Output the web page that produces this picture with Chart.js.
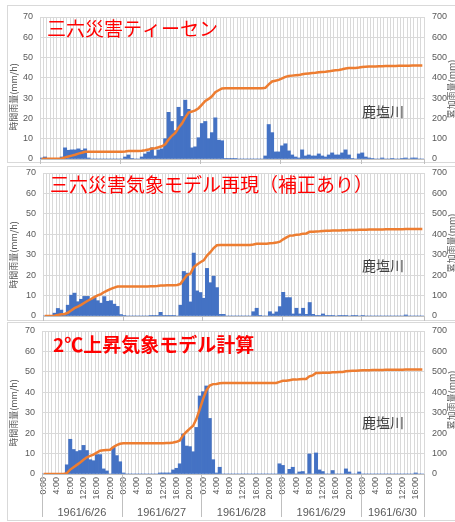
<!DOCTYPE html>
<html><head><meta charset="utf-8">
<script src="https://cdn.jsdelivr.net/npm/chart.js@4.4.1/dist/chart.umd.min.js"></script>
<style>
html,body{margin:0;padding:0;background:#fff;width:455px;height:522px;overflow:hidden;position:relative}
.panel{position:absolute;left:7px;width:470px;border:1px solid #d9d9d9;box-sizing:border-box;background:#fff}
canvas{position:absolute;left:0}
</style></head><body>
<div class="panel" style="top:5px;height:158px"></div>
<div class="panel" style="top:166px;height:155px"></div>
<div class="panel" style="top:322px;height:199px"></div>
<canvas id="c1" width="455" height="159" style="top:5px"></canvas>
<canvas id="c2" width="455" height="155" style="top:166px"></canvas>
<canvas id="c3" width="455" height="199" style="top:322px"></canvas>
<script>
// Dates on the category axis and how many hourly steps each one holds
const dayLabels = ['1961/6/26', '1961/6/27', '1961/6/28', '1961/6/29', '1961/6/30'];
const hoursPerDay = [24, 24, 24, 24, 19];
// Hour labels shown under the axis (every 4 hours)
const hourTickLabels = ['0:00', '4:00', '8:00', '12:00', '16:00', '20:00'];

// Hourly rainfall (mm/h), Kashio river basin — one row per day
const rainThiessen = [
  0.5, 1, 0, 0, 0, 0, 1, 5.5, 4.3, 4.5, 4.5, 5, 4.3, 5, 0.5, 0, 0, 0, 0, 0, 0, 0, 0, 0,
  0, 1, 2, 0.3, 0, 0, 1, 2.5, 3.5, 5.5, 1.5, 4.5, 5, 10, 23, 18.5, 14, 25.5, 21, 29, 24.5, 5.5, 6, 10.5,
  17.5, 18.5, 10, 13, 20.3, 9.3, 9, 0.3, 0.3, 0.3, 0.3, 0, 0, 0, 0, 0, 0, 0, 0, 1.5, 17, 13, 3.5, 3.5,
  6.5, 7.5, 4, 2, 1, 0.5, 4.5, 1.5, 2, 1.5, 1.5, 2.5, 1.5, 1, 2, 3, 2, 2, 3, 4.5, 2, 0.3, 0, 2.5,
  3, 1, 0.5, 0.3, 0, 0, 0.5, 0, 0, 0.3, 0, 0, 0.3, 0.5, 0, 0.5, 0.5, 0, 0
];
const rainModel = [
  0, 0.2, 0, 1.4, 3.7, 2.9, 1.3, 5.3, 10.2, 11.2, 7, 8.2, 9.6, 9.6, 8, 9, 7.5, 6.3, 9.5, 7.2, 7.5, 5.8, 4.7, 0.7,
  0.2, 0, 0, 0, 0, 0, 0, 0, 0.3, 0.3, 0.3, 1.8, 0.3, 0.3, 0.3, 0.3, 0, 5.3, 21.8, 21, 6.9, 30.8, 12.3, 11.5,
  8.7, 23.3, 16.3, 19.5, 13.9, 0.8, 0.8, 0, 0, 0, 0, 0, 0, 0, 0, 2.1, 3.8, 0.3, 0, 0, 2.1, 1, 2, 4.6,
  11.6, 9, 9, 1, 3.8, 1, 3.8, 0.8, 6.6, 0.8, 0.3, 0.3, 1, 0.3, 0.3, 0.3, 0, 0.3, 0.3, 0.3, 0, 0.3, 0.3, 0,
  0.3, 0, 0, 0, 0, 0, 0, 0, 0, 0, 0, 0, 0, 0.5, 0, 0, 0, 0, 0
];
const rainWarming = [
  0, 0, 0, 0, 0, 0, 0, 4.5, 17, 12, 11, 11.5, 14, 11.5, 7, 6.5, 9.5, 9.5, 2.5, 1.5, 0, 13, 9, 6,
  0.5, 0, 0, 0, 0, 0, 0, 0, 0, 0, 0, 0.5, 0.5, 0.5, 0.5, 2, 2.8, 5, 19.6, 13.7, 13.4, 10.9, 22.8, 38.2,
  40.3, 43.1, 27.2, 7, 0.5, 3.3, 0, 0, 0, 0, 0, 0, 0, 0, 0, 0, 0, 0, 0, 0, 0, 0, 0, 5,
  4.2, 0, 2.3, 3.3, 0, 1, 1.2, 0, 9.8, 0, 10.3, 2, 1.2, 0, 0, 1.7, 0, 0, 0, 2.5, 1, 0, 0, 1,
  0, 0, 0, 0, 0, 0, 0, 0, 0, 0, 0, 0, 0, 0, 0, 0, 0.5, 0, 0
];

// Cumulative rainfall (mm) — one row per day
const cumThiessen = [
  0.5, 1.5, 1.5, 1.5, 1.5, 1.5, 2.5, 8, 12.3, 16.8, 21.3, 26.3, 30.6, 35.6, 36.1, 36.1, 36.1, 36.1, 36.1, 36.1, 36.1, 36.1, 36.1, 36.1,
  36.1, 37.1, 39.1, 39.4, 39.4, 39.4, 40.4, 42.9, 46.4, 51.9, 53.4, 57.9, 62.9, 72.9, 95.9, 114.4, 128.4, 153.9, 174.9, 203.9, 228.4, 233.9, 239.9, 250.4,
  267.9, 286.4, 296.4, 309.4, 329.7, 339, 348, 348.3, 348.6, 348.9, 349.2, 349.2, 349.2, 349.2, 349.2, 349.2, 349.2, 349.2, 349.2, 350.7, 368, 382, 386, 390,
  397, 405, 409, 411, 412.5, 413.5, 418, 420, 422, 423.5, 425, 427.5, 429, 430, 432, 435, 437, 439, 442, 446, 448, 448.5, 449, 451,
  454, 455, 455.5, 456, 456.5, 457, 457.5, 458, 458.3, 458.6, 459, 459.3, 459.6, 460, 460.2, 460.5, 460.8, 461, 461
];
const cumModel = [
  0, 0.2, 0.2, 1.7, 5.6, 8.7, 10.1, 15.7, 26.5, 38.3, 45.7, 54.4, 64.6, 74.7, 83.2, 92.7, 100.6, 107.3, 117.3, 124.9, 132.9, 139, 144, 144.7,
  145, 145, 145, 145, 145, 145, 145, 145, 145.5, 146, 146.5, 149, 149.5, 150, 150.5, 151, 152, 157.4, 179.5, 200.8, 207.8, 239.1, 251.6, 263.3,
  272.1, 295.8, 312.3, 332.1, 346.2, 347, 348, 348, 348, 348, 348, 348, 348, 348, 348, 350.1, 353.9, 354.2, 354.2, 354.2, 356.3, 357.3, 359.3, 363.9,
  375.5, 384.5, 393.5, 394.5, 398.3, 399.3, 403.1, 403.9, 412, 413, 414, 414.5, 416, 417, 417.5, 418, 418.5, 419, 419.5, 420, 420.5, 421, 421.5, 422,
  422.3, 422.6, 422.9, 423.2, 423.5, 423.8, 424, 424.2, 424.4, 424.6, 424.8, 425, 425.2, 425.5, 425.6, 425.7, 425.8, 425.9, 426
];
const cumWarming = [
  0, 0, 0, 0, 0, 0, 0, 4.5, 21.5, 33.5, 44.5, 56, 70, 81.5, 88.5, 95, 104.5, 114, 116.5, 118, 118.5, 132, 141.5, 148,
  150, 150, 150, 150, 150, 150, 150, 150, 150, 150, 150, 150.5, 151, 151.5, 152, 154.5, 157.5, 164, 190, 207, 222, 236, 270, 318,
  368, 410, 433, 440, 441, 444, 445, 446, 446, 446, 446, 446, 446, 446, 446, 446, 446, 446, 446, 446, 446, 446, 446, 451,
  456, 456, 459, 462, 462, 463.5, 465, 465, 478, 483, 494, 495, 496, 496, 496, 498, 498.5, 499, 499.5, 503, 504.5, 505, 505.5, 507,
  507.5, 508, 508.3, 508.6, 508.9, 509.2, 509.5, 509.8, 510, 510.2, 510.4, 510.6, 510.8, 511, 511, 511, 511.5, 511.5, 511.5
];

const panelTitles = ['三六災害ティーセン', '三六災害気象モデル再現（補正あり）', '2℃上昇気象モデル計算'];
const stationName = '鹿塩川';
const leftAxisTitle = '時間雨量(mm/h)';
const rightAxisTitle = '累加雨量(mm)';

// Category labels: one per hour
const categories = [];
dayLabels.forEach((d, i) => {
  for (let h = 0; h < hoursPerDay[i]; h++) categories.push(d + ' ' + h + ':00');
});

const FONT = "'Liberation Sans', Arial, sans-serif";
const JFONT = "'Noto Sans CJK JP', sans-serif";
const GRID = '#d9d9d9';
const TICK = '#595959';

const layouts = [
  { canvas: 'c1', top: 5,   plotLeft: 40, plotRight: 424, plotTop: 17,  plotBottom: 159, showHours: false, titleX: 47, titleY: 29, titleWeight: 'normal', stationY: 112, leftTitleY: 97,  rightTitleY: 89 },
  { canvas: 'c2', top: 166, plotLeft: 43, plotRight: 424, plotTop: 173, plotBottom: 316, showHours: false, titleX: 50, titleY: 185, titleWeight: 'normal', stationY: 266, leftTitleY: 255, rightTitleY: 243 },
  { canvas: 'c3', top: 322, plotLeft: 42, plotRight: 424, plotTop: 331, plotBottom: 474, showHours: true,  titleX: 53, titleY: 345, titleWeight: 'bold',   stationY: 423, leftTitleY: 413, rightTitleY: 400 }
];
const barSeries = [rainThiessen, rainModel, rainWarming];
const lineSeries = [cumThiessen, cumModel, cumWarming];

const decorations = {
  id: 'decorations',
  afterDraw(chart, args, opts) {
    const L = opts.layout;
    const ctx = chart.ctx;
    const x = chart.scales.x;
    const off = L.top;
    ctx.save();
    // day separators on the category axis
    ctx.strokeStyle = '#bfbfbf';
    ctx.lineWidth = 1;
    const half = (x.getPixelForValue(1) - x.getPixelForValue(0)) / 2;
    const edges = [];
    let idx = 0;
    for (let i = 0; i <= dayLabels.length; i++) {
      const px = idx < categories.length ? x.getPixelForValue(idx) - half : x.getPixelForValue(categories.length - 1) + half;
      edges.push(px);
      if (i < dayLabels.length) idx += hoursPerDay[i];
    }
    const tickEnd = L.showHours ? chart.height - 4 : chart.height;
    edges.forEach(px => {
      const p = Math.round(px) + 0.5;
      ctx.beginPath();
      ctx.moveTo(p, x.top);
      ctx.lineTo(p, tickEnd);
      ctx.stroke();
    });
    if (L.showHours) {
      ctx.fillStyle = TICK;
      ctx.font = '11px ' + FONT;
      ctx.textAlign = 'center';
      ctx.textBaseline = 'middle';
      for (let i = 0; i < dayLabels.length; i++) {
        ctx.fillText(dayLabels[i], (edges[i] + edges[i + 1]) / 2, 513 - off);
      }
    }
    // panel heading
    ctx.fillStyle = '#ff0000';
    ctx.font = L.titleWeight + ' 19px ' + JFONT;
    ctx.textAlign = 'left';
    ctx.textBaseline = 'middle';
    ctx.fillText(opts.title, L.titleX, L.titleY - off);
    // station name
    ctx.fillStyle = '#404040';
    ctx.font = '14px ' + JFONT;
    ctx.fillText(stationName, 362, L.stationY - off);
    // axis titles, both reading bottom to top
    ctx.fillStyle = TICK;
    ctx.font = '9px ' + JFONT;
    ctx.textAlign = 'center';
    ctx.save();
    ctx.translate(14, L.leftTitleY - off);
    ctx.rotate(-Math.PI / 2);
    ctx.fillText(leftAxisTitle, 0, 0);
    ctx.restore();
    ctx.save();
    ctx.translate(452, L.rightTitleY - off);
    ctx.rotate(-Math.PI / 2);
    ctx.fillText(rightAxisTitle, 0, 0);
    ctx.restore();
    ctx.restore();
  }
};

layouts.forEach((L, k) => {
  const el = document.getElementById(L.canvas);
  const H = el.height;
  new Chart(el, {
    type: 'bar',
    data: {
      labels: categories,
      datasets: [
        {
          type: 'line',
          data: lineSeries[k],
          yAxisID: 'y2',
          borderColor: '#ed7d31',
          borderWidth: 2.5,
          pointRadius: 0,
          tension: 0,
          order: 0
        },
        {
          type: 'bar',
          data: barSeries[k],
          yAxisID: 'y',
          backgroundColor: '#4472c4',
          barPercentage: 1,
          categoryPercentage: 1,
          order: 1
        }
      ]
    },
    options: {
      responsive: false,
      animation: false,
      events: [],
      layout: { padding: { left: 0, right: 0, top: L.plotTop - L.top, bottom: 0 } },
      plugins: {
        legend: { display: false },
        tooltip: { enabled: false },
        decorations: { layout: L, title: panelTitles[k] }
      },
      scales: {
        x: {
          type: 'category',
          offset: true,
          grid: { offset: true, color: GRID, lineWidth: 1, drawTicks: false },
          border: { display: true, color: '#bfbfbf' },
          afterFit: s => { s.height = H - (L.plotBottom - L.top); },
          ticks: {
            display: L.showHours,
            autoSkip: false,
            minRotation: 90,
            maxRotation: 90,
            padding: 3,
            color: TICK,
            font: { family: FONT, size: 9 },
            callback: function (v, i) {
              const c = categories[i].split(' ')[1];
              return hourTickLabels.includes(c) ? c : '';
            }
          }
        },
        y: {
          position: 'left',
          min: 0, max: 70,
          grid: { color: GRID, drawTicks: true, tickLength: 7, tickColor: 'rgba(0,0,0,0)' },
          border: { display: false },
          afterFit: s => { s.width = L.plotLeft; },
          ticks: { stepSize: 10, padding: 0, color: TICK, font: { family: FONT, size: 9, lineHeight: 1 } }
        },
        y2: {
          position: 'right',
          min: 0, max: 700,
          grid: { drawOnChartArea: false, drawTicks: true, tickLength: 8, tickColor: 'rgba(0,0,0,0)' },
          border: { display: false },
          afterFit: s => { s.width = 455 - L.plotRight; },
          ticks: { stepSize: 100, padding: 0, color: TICK, font: { family: FONT, size: 9, lineHeight: 1 } }
        }
      }
    },
    plugins: [decorations]
  });
});
</script>
</body></html>
